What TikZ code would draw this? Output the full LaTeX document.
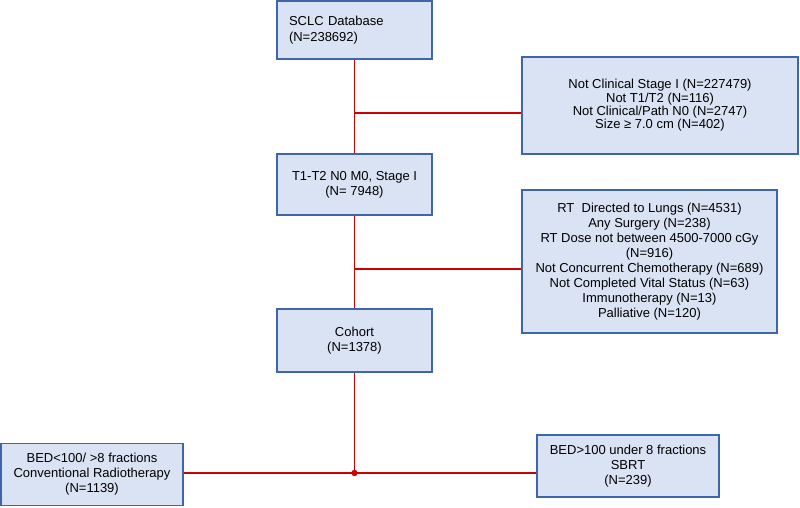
\documentclass[tikz,border=0pt]{standalone}
\usepackage{fontspec}
\setmainfont{Liberation Sans}
\definecolor{boxblue}{RGB}{62,102,170}
\definecolor{boxfill}{RGB}{218,227,243}
\definecolor{linkred}{RGB}{204,0,0}
\tikzset{box/.style={draw=boxblue,line width=1.8pt,fill=boxfill,align=center,inner sep=0pt,font=\fontsize{13}{15}\selectfont},
link/.style={draw=linkred,line width=1.6pt}}
\begin{document}
\begin{tikzpicture}[x=1pt,y=-1pt]
\useasboundingbox(0,0)rectangle(800,507);
\node[box,minimum width=155,minimum height=58,text width=131,inner xsep=12,align=left](db)at(354.5,30){SCLC Database\\[1pt](N=238692)};
\node[box,minimum width=276,minimum height=97,font=\fontsize{13}{13.4}\selectfont](ex1)at(660,105.5){Not Clinical Stage I (N=227479)\\Not T1/T2 (N=116)\\Not Clinical/Path N0 (N=2747)\\Size ≥ 7.0 cm (N=402)};
\node[box,minimum width=155,minimum height=61](stage)at(354.5,184.5){T1-T2 N0 M0, Stage I\\(N= 7948)};
\node[box,minimum width=255,minimum height=143](ex2)at(649.5,261.5){RT\ \ Directed to Lungs (N=4531)\\Any Surgery (N=238)\\RT Dose not between 4500-7000 cGy\\(N=916)\\Not Concurrent Chemotherapy (N=689)\\Not Completed Vital Status (N=63)\\Immunotherapy (N=13)\\Palliative (N=120)};
\node[box,minimum width=155,minimum height=63](cohort)at(354.5,340.5){Cohort\\(N=1378)};
\node[box,minimum width=182,minimum height=62](conv)at(92,474.5){BED<100/ >8 fractions\\Conventional Radiotherapy\\(N=1139)};
\node[box,minimum width=182,minimum height=62](sbrt)at(628,466){BED>100 under 8 fractions\\SBRT\\(N=239)};
\coordinate(j1)at(354.5,113);
\coordinate(j2)at(354.5,269);
\coordinate(j3)at(354.5,473);
\draw[link](db)--(stage);
\draw[link](stage)--(cohort);
\draw[link](cohort)--(j3);
\draw[link](j1)--(ex1.west|-j1);
\draw[link](j2)--(ex2.west|-j2);
\draw[link](conv.east|-j3)--(sbrt.west|-j3);
\fill[linkred](j3)circle(3.2);
\end{tikzpicture}
\end{document}
